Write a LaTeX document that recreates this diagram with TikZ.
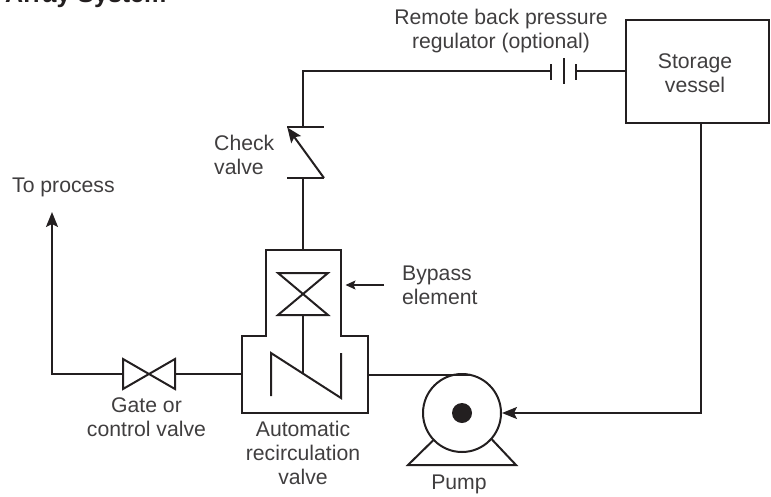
\documentclass[tikz,border=0pt]{standalone}
\usepackage{fontspec}
\setmainfont{Liberation Sans}
\usetikzlibrary{arrows.meta}
\definecolor{ink}{HTML}{231F20}
\definecolor{txt}{HTML}{403E3F}
\tikzset{
  pipe/.style={draw=ink,line width=2pt,line join=miter},
  thin/.style={draw=ink,line width=1.2pt},
  lab/.style={text=txt,font=\fontsize{21.2}{24}\selectfont,align=center,inner sep=0pt},
  bigtip/.style={-{Stealth[length=15pt,width=12pt,inset=3pt]}},
  smalltip/.style={-{Stealth[length=10pt,width=9pt,inset=2pt]}}
}
\begin{document}
\begin{tikzpicture}[x=1pt,y=-1pt]
\useasboundingbox (0,0) rectangle (771,496);
\begin{scope}
\clip (0,0) rectangle (771,496);
\node[anchor=base west,inner sep=0pt,text=ink,font=\fontsize{25}{28}\bfseries\selectfont] (title) at (5,2) {Array System};
\end{scope}
% storage and pipes
\coordinate (stNW) at (626,20); \coordinate (stSE) at (769,122.5);
\draw[pipe] (stNW) rectangle (stSE);
\node[lab] (storetext) at (695,73) {Storage\\vessel};
\coordinate (c1) at (551,70.5); \coordinate (c2) at (576,70.5);
\coordinate (cornerA) at (303,70.5);
\coordinate (chkTop) at (303,127); \coordinate (chkBot) at (303,178);
\coordinate (bypTop) at (303,250);
\draw[pipe] (chkTop) -- (cornerA) -- (c1);
\draw[pipe] (c2) -- (626,70.5);
\draw[pipe] (551,64) -- (551,80);
\draw[pipe] (564,58) -- (564,84);
\draw[pipe] (576,64) -- (576,80);
% check valve
\draw[pipe] (287,127) -- (324,127);
\draw[pipe] (287,178) -- (324,178);
\draw[pipe,bigtip] (324,178) -- (287.3,127.4);
\draw[pipe] (chkBot) -- (bypTop);
% recirculation valve body
\draw[pipe] (266,336) -- (266,250) -- (341,250) -- (341,336) -- (368,336) -- (368,413) -- (242,413) -- (242,336) -- cycle;
\draw[pipe] (278,273) -- (328,273) -- (278,315) -- (328,315) -- cycle;
\draw[pipe] (303,315) -- (303,373);
\draw[pipe] (271,396) -- (271,353) -- (341,398) -- (341,353);
% gate valve & outlet
\coordinate (gl) at (123,374); \coordinate (gr) at (175,374);
\draw[pipe] (123,359) -- (123,389) -- (175,359) -- (175,389) -- cycle;
\draw[pipe] (242,374) -- (gr);
\draw[pipe,bigtip] (gl) -- (52,374) -- (52,212);
% pump
\node[pipe,circle,minimum size=78pt,inner sep=0pt] (pump) at (462,413) {};
\fill[ink] (pump.center) circle (10);
\draw[pipe] (368,375) -- (470,375);
\draw[pipe] (433,440.5) -- (408,465) -- (516,465) -- (491.5,439);
\coordinate (stOut) at (701,122.5);
\draw[pipe,bigtip] (stOut) -- (701,413) -- (pump.east);
% bypass arrow
\coordinate (by1) at (384,285); \coordinate (by2) at (345.5,285);
\draw[thin,smalltip] (by1) -- (by2);
% labels
\node[lab] (l1) at (501,31.5) {Remote back pressure\\regulator (optional)};
\node[lab,align=left,anchor=west] (l2) at (214,154.5) {Check\\valve};
\node[lab,anchor=west] (l3) at (12,187) {To process};
\node[lab,align=left,anchor=west] (l4) at (402,285.5) {Bypass\\element};
\node[lab] (l5) at (146.5,417.5) {Gate or\\control valve};
\node[lab] (l6) at (303,453) {Automatic\\recirculation\\valve};
\node[lab] (l7) at (459,484) {Pump};
\end{tikzpicture}
\end{document}
